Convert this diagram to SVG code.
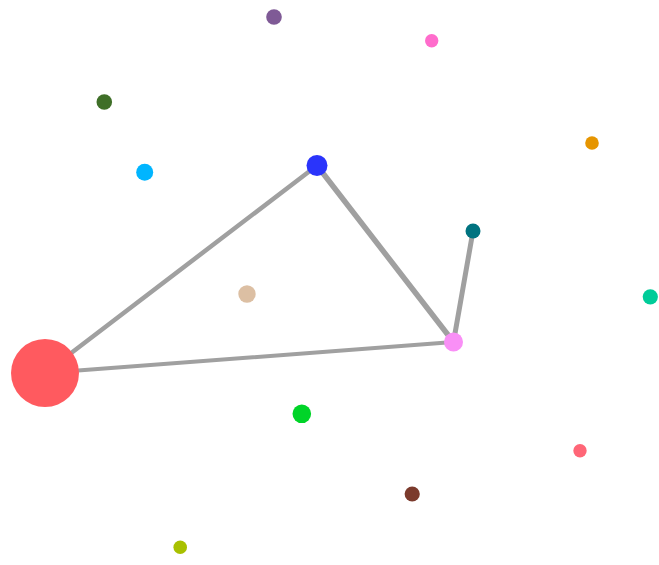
<svg xmlns="http://www.w3.org/2000/svg" width="659" height="565" viewBox="0 0 659 565">
<style>
.link{stroke:#a0a0a0;stroke-linecap:round;fill:none}
</style>
<rect width="659" height="565" fill="#ffffff"/>
<g id="connectors">
<line class="link" x1="45" y1="373" x2="317" y2="165.5" stroke-width="4.5"/>
<line class="link" x1="45" y1="373" x2="453.5" y2="342" stroke-width="4"/>
<line class="link" x1="317" y1="165.5" x2="453.5" y2="342" stroke-width="5.5"/>
<line class="link" x1="453.5" y1="342" x2="473" y2="231" stroke-width="5"/>
</g>
<g id="n-red"><circle cx="45" cy="373" r="34" fill="#ff5a5f"/></g>
<g id="n-blue"><circle cx="317" cy="165.5" r="10.5" fill="#2a34fb"/></g>
<g id="n-pink"><circle cx="453.5" cy="342" r="9.5" fill="#f98ff6"/></g>
<g id="n-teal"><circle cx="473" cy="231" r="7.5" fill="#007380"/></g>
<g id="n-purple"><circle cx="274" cy="17" r="7.8" fill="#7f5a96"/></g>
<g id="n-darkgreen"><circle cx="104.3" cy="102" r="7.8" fill="#3f6f28"/></g>
<g id="n-cyan"><circle cx="144.7" cy="172.3" r="8.5" fill="#00b5ff"/></g>
<g id="n-hotpink"><circle cx="431.7" cy="40.7" r="6.7" fill="#ff6ccc"/></g>
<g id="n-orange"><circle cx="592" cy="143" r="6.8" fill="#e69500"/></g>
<g id="n-mint"><circle cx="650.3" cy="296.8" r="7.6" fill="#00cc99"/></g>
<g id="n-tan"><circle cx="247" cy="294" r="8.7" fill="#dcbfa3"/></g>
<g id="n-green"><circle cx="301.8" cy="413.8" r="9.3" fill="#00d428"/></g>
<g id="n-salmon"><circle cx="580" cy="450.7" r="6.7" fill="#ff6677"/></g>
<g id="n-brown"><circle cx="412.2" cy="494" r="7.6" fill="#7b3a2c"/></g>
<g id="n-olive"><circle cx="180.2" cy="547.3" r="6.8" fill="#a8c000"/></g>
</svg>
